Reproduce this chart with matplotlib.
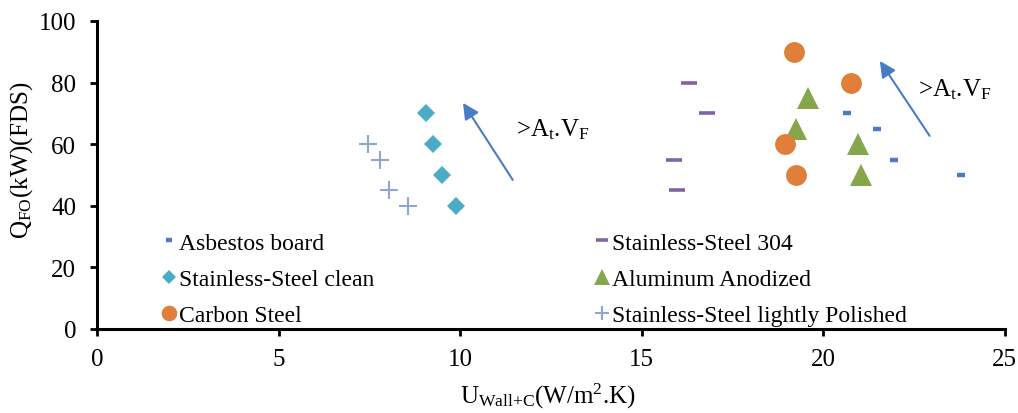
import matplotlib
matplotlib.use("Agg")
import matplotlib.pyplot as plt

plt.rcParams['font.family'] = ['Liberation Serif', 'DejaVu Serif']
plt.rcParams['mathtext.fontset'] = 'custom'
plt.rcParams['mathtext.rm'] = 'Liberation Serif'
plt.rcParams['mathtext.it'] = 'Liberation Serif:italic'
plt.rcParams['mathtext.bf'] = 'Liberation Serif:bold'

# Overall heat transfer coefficient (W/m2.K) vs flashover HRR (kW)
asbestos_u = [20.65, 21.47, 21.94, 23.8]
asbestos_q = [70, 65, 55, 50]

ss304_u = [16.3, 16.8, 15.9, 15.97]
ss304_q = [80, 70, 55, 45]

ss_clean_u = [9.06, 9.25, 9.5, 9.88]
ss_clean_q = [70, 60, 50, 40]

aluminum_u = [19.58, 19.25, 20.95, 21.03]
aluminum_q = [75, 65, 60, 50]

carbon_u = [19.19, 20.76, 18.94, 19.25]
carbon_q = [90, 80, 60, 50]

ss_polished_u = [7.46, 7.79, 8.04, 8.56]
ss_polished_q = [60, 55, 45, 40]

fig = plt.figure(figsize=(10.18, 4.14), dpi=100)
ax = fig.add_axes([0.0953, 0.203, 0.8917, 0.744])

h_asb, = ax.plot(asbestos_u, asbestos_q, ls='none', marker='_', ms=6, mew=3.2,
                 color='#4A7CC4', label='Asbestos board')
h_304, = ax.plot(ss304_u, ss304_q, ls='none', marker='_', ms=11.5, mew=2.6,
                 color='#8064A2', label='Stainless-Steel 304')
h_cln, = ax.plot(ss_clean_u, ss_clean_q, ls='none', marker='D', ms=9, mew=0,
                 color='#4BACC6', label='Stainless-Steel clean')
h_alu, = ax.plot(aluminum_u, aluminum_q, ls='none', marker='^', ms=16, mew=0,
                 color='#86A64C', label='Aluminum Anodized')
h_cs, = ax.plot(carbon_u, carbon_q, ls='none', marker='o', ms=15, mew=0,
                color='#E07F3A', label='Carbon Steel')
h_pol, = ax.plot(ss_polished_u, ss_polished_q, ls='none', marker='+', ms=13,
                 mew=1.5, color='#8EA6D4',
                 label='Stainless-Steel lightly Polished')

arrow_style = dict(arrowstyle='-|>', color='#4A7CC4', lw=1.5,
                   mutation_scale=24, shrinkA=0, shrinkB=0)
ax.annotate('', xy=(10.08, 73.4), xytext=(11.45, 48.4), arrowprops=arrow_style)
ax.annotate('', xy=(21.56, 87.0), xytext=(22.93, 62.7), arrowprops=arrow_style)

ax.text(11.55, 65, r'>A$_{\mathrm{t}}$.V$_{\mathrm{F}}$', fontsize=18,
        va='center', ha='left')
ax.text(22.6, 78, r'>A$_{\mathrm{t}}$.V$_{\mathrm{F}}$', fontsize=18,
        va='center', ha='left')

ax.set_xlim(0, 25)
ax.set_ylim(0, 100)
ax.set_xticks(range(0, 26, 5))
ax.set_yticks(range(0, 101, 20))
ax.tick_params(axis='both', labelsize=18, width=2, length=5, direction='out',
               colors='black')
ax.tick_params(axis='x', pad=9)
ax.tick_params(axis='y', pad=10)
for side in ('top', 'right'):
    ax.spines[side].set_visible(False)
for side in ('left', 'bottom'):
    ax.spines[side].set_linewidth(2.2)

ax.set_xlabel(r'U$_{\mathrm{Wall{+}C}}$(W/m$^{2}$.K)', fontsize=18)
ax.xaxis.set_label_coords(0.497, -0.215, transform=ax.transAxes)
ax.xaxis.label.set_va('center')
ax.set_ylabel(r'Q$_{\mathrm{FO}}$(kW)(FDS)', fontsize=18)
ax.yaxis.set_label_coords(-0.083, 0.552, transform=ax.transAxes)
ax.yaxis.label.set_va('center')

# row-wise ordering across two columns
handles = [h_asb, h_cln, h_cs, h_304, h_alu, h_pol]
ax.legend(handles=handles, labels=[h.get_label() for h in handles],
          loc='upper left', bbox_to_anchor=(0.062, 0.345), ncol=2,
          frameon=False, fontsize=17, handlelength=0.55, handletextpad=0.15,
          columnspacing=9.35, labelspacing=0.62, borderaxespad=0,
          markerscale=0.75)

fig.savefig('out.png', dpi=100)
